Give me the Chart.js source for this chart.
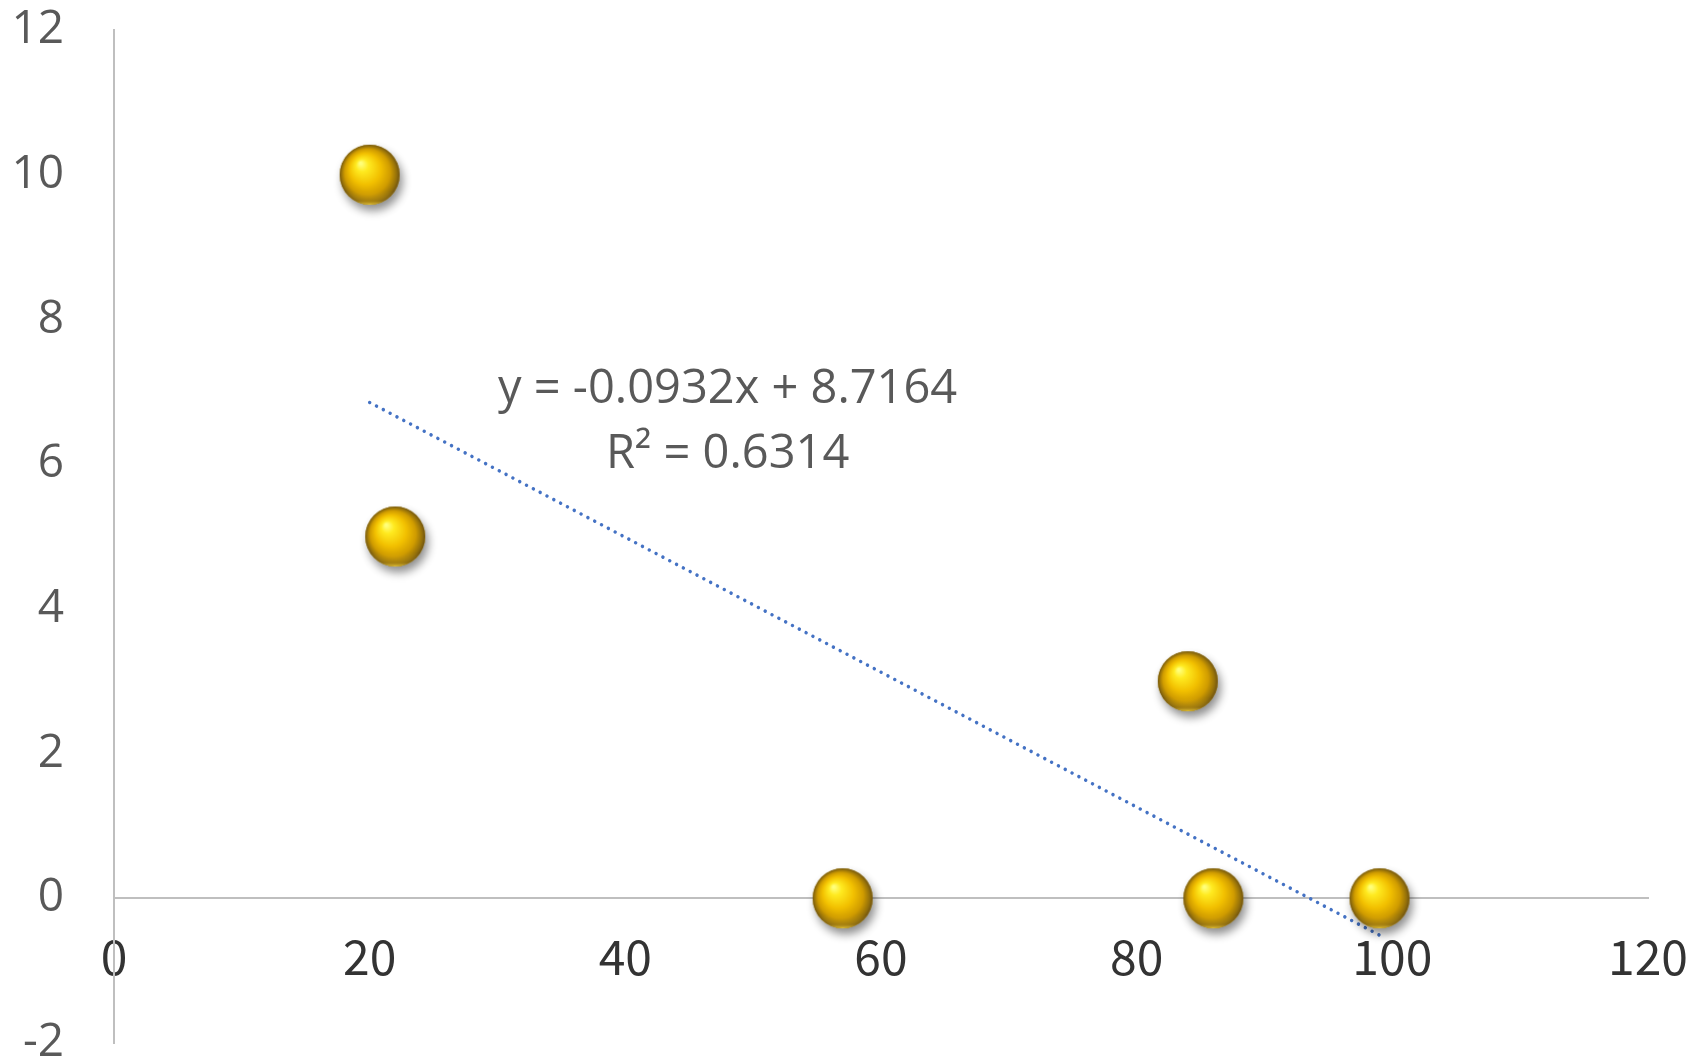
<!DOCTYPE html>
<html>
<head>
<meta charset="utf-8">
<script src="https://cdn.jsdelivr.net/npm/chart.js@4/dist/chart.umd.min.js"></script>
<style>
  html, body { margin: 0; padding: 0; background: #ffffff; }
  #wrap { width: 1696px; height: 1062px; position: relative; }
</style>
</head>
<body>
<div id="wrap"><canvas id="c" width="1696" height="1062"></canvas></div>
<script>
// ---- data ----
const xValues = [20, 22, 57, 84, 86, 99];
const yValues = [10, 5, 0, 3, 0, 0];
const trendSlope = -0.0932;
const trendIntercept = 8.7164;
const rSquared = 0.6314;
const xTicks = [0, 20, 40, 60, 80, 100, 120];
const yTicks = [-2, 0, 2, 4, 6, 8, 10, 12];
const equationLines = ['y = -0.0932x + 8.7164', 'R² = 0.6314'];

// ---- marker image: golden sphere ----
function makeBall(r) {
  const pad = 16;
  const c = document.createElement('canvas');
  c.width = c.height = 2 * (r + pad);
  const g = c.getContext('2d');
  const cx = r + pad, cy = r + pad;
  g.save();
  g.shadowColor = 'rgba(0,0,0,0.45)';
  g.shadowBlur = 10;
  g.shadowOffsetX = 3;
  g.shadowOffsetY = 6;
  g.beginPath(); g.arc(cx, cy, r, 0, Math.PI * 2);
  g.fillStyle = '#c99c00'; g.fill();
  g.restore();
  const grad = g.createRadialGradient(cx - r * 0.3, cy - r * 0.38, r * 0.04, cx, cy, r);
  grad.addColorStop(0, '#ffff7a');
  grad.addColorStop(0.18, '#ffea20');
  grad.addColorStop(0.5, '#f2c000');
  grad.addColorStop(0.75, '#d09c00');
  grad.addColorStop(0.92, '#94700a');
  grad.addColorStop(1, '#6e5212');
  g.beginPath(); g.arc(cx, cy, r, 0, Math.PI * 2);
  g.fillStyle = grad; g.fill();
  // bottom rim reflection
  g.save();
  g.beginPath(); g.arc(cx, cy, r, 0, Math.PI * 2); g.clip();
  const lg = g.createLinearGradient(0, cy + r * 0.55, 0, cy + r);
  lg.addColorStop(0, 'rgba(230,190,40,0)');
  lg.addColorStop(0.7, 'rgba(200,160,30,0.25)');
  lg.addColorStop(1, 'rgba(255,220,60,0.85)');
  g.fillStyle = lg;
  g.fillRect(cx - r, cy + r * 0.55, 2 * r, r * 0.5);
  g.restore();
  return c;
}
const ball = makeBall(30);

const scatterData = xValues.map((x, i) => ({ x: x, y: yValues[i] }));
const xMinData = Math.min(...xValues), xMaxData = Math.max(...xValues);
const trendData = [
  { x: xMinData, y: trendSlope * xMinData + trendIntercept },
  { x: xMaxData, y: trendSlope * xMaxData + trendIntercept }
];

const equationPlugin = {
  id: 'equation',
  afterDatasetsDraw(chart) {
    const ctx = chart.ctx;
    const xs = chart.scales.x, ys = chart.scales.y;
    const px = xs.getPixelForValue(48.0);
    ctx.save();
    ctx.font = '47px "Open Sans"';
    ctx.fillStyle = '#595959';
    ctx.textAlign = 'center';
    ctx.textBaseline = 'middle';
    ctx.fillText(equationLines[0], px, ys.getPixelForValue(7.03));
    ctx.fillText(equationLines[1], px, ys.getPixelForValue(6.13));
    ctx.restore();
  }
};

new Chart(document.getElementById('c'), {
  type: 'scatter',
  data: {
    datasets: [
      {
        label: 'data',
        data: scatterData,
        pointStyle: ball,
        pointRadius: 30,
        pointHoverRadius: 30,
        order: 1
      },
      {
        label: 'trend',
        data: trendData,
        showLine: true,
        pointRadius: 0,
        borderColor: '#4472C4',
        borderWidth: 3.5,
        borderDash: [0.01, 7.7],
        borderCapStyle: 'round',
        fill: false,
        order: 2
      }
    ]
  },
  options: {
    responsive: false,
    animation: false,
    events: [],
    layout: { autoPadding: false, padding: { top: 30, right: 48, bottom: 19, left: 0 } },
    plugins: { legend: { display: false }, tooltip: { enabled: false } },
    scales: {
      x: {
        type: 'linear',
        position: { y: 0 },
        min: 0, max: 120,
        afterBuildTicks(s) { s.ticks = xTicks.map(v => ({ value: v })); },
        grid: { display: false, drawTicks: false },
        border: { display: true, color: '#bfbfbf', width: 2 },
        ticks: {
          padding: 30,
          maxRotation: 0,
          autoSkip: false,
          color: '#333333',
          font: { family: '"Noto Sans CJK JP"', size: 48 }
        },
        afterFit(s) { s.paddingLeft = 0; s.paddingRight = 0; s.paddingTop = 0; s.paddingBottom = 0; }
      },
      y: {
        type: 'linear',
        position: 'left',
        min: -2, max: 12,
        afterBuildTicks(s) { s.ticks = yTicks.map(v => ({ value: v })); },
        grid: { display: false, drawTicks: false },
        border: { display: true, color: '#bfbfbf', width: 2 },
        ticks: {
          padding: 50,
          color: '#595959',
          font: { family: '"Open Sans"', size: 46, lineHeight: 1 }
        },
        afterFit(s) { s.width = 114; s.paddingTop = 0; s.paddingBottom = 0; }
      }
    }
  },
  plugins: [equationPlugin]
});
</script>
</body>
</html>
